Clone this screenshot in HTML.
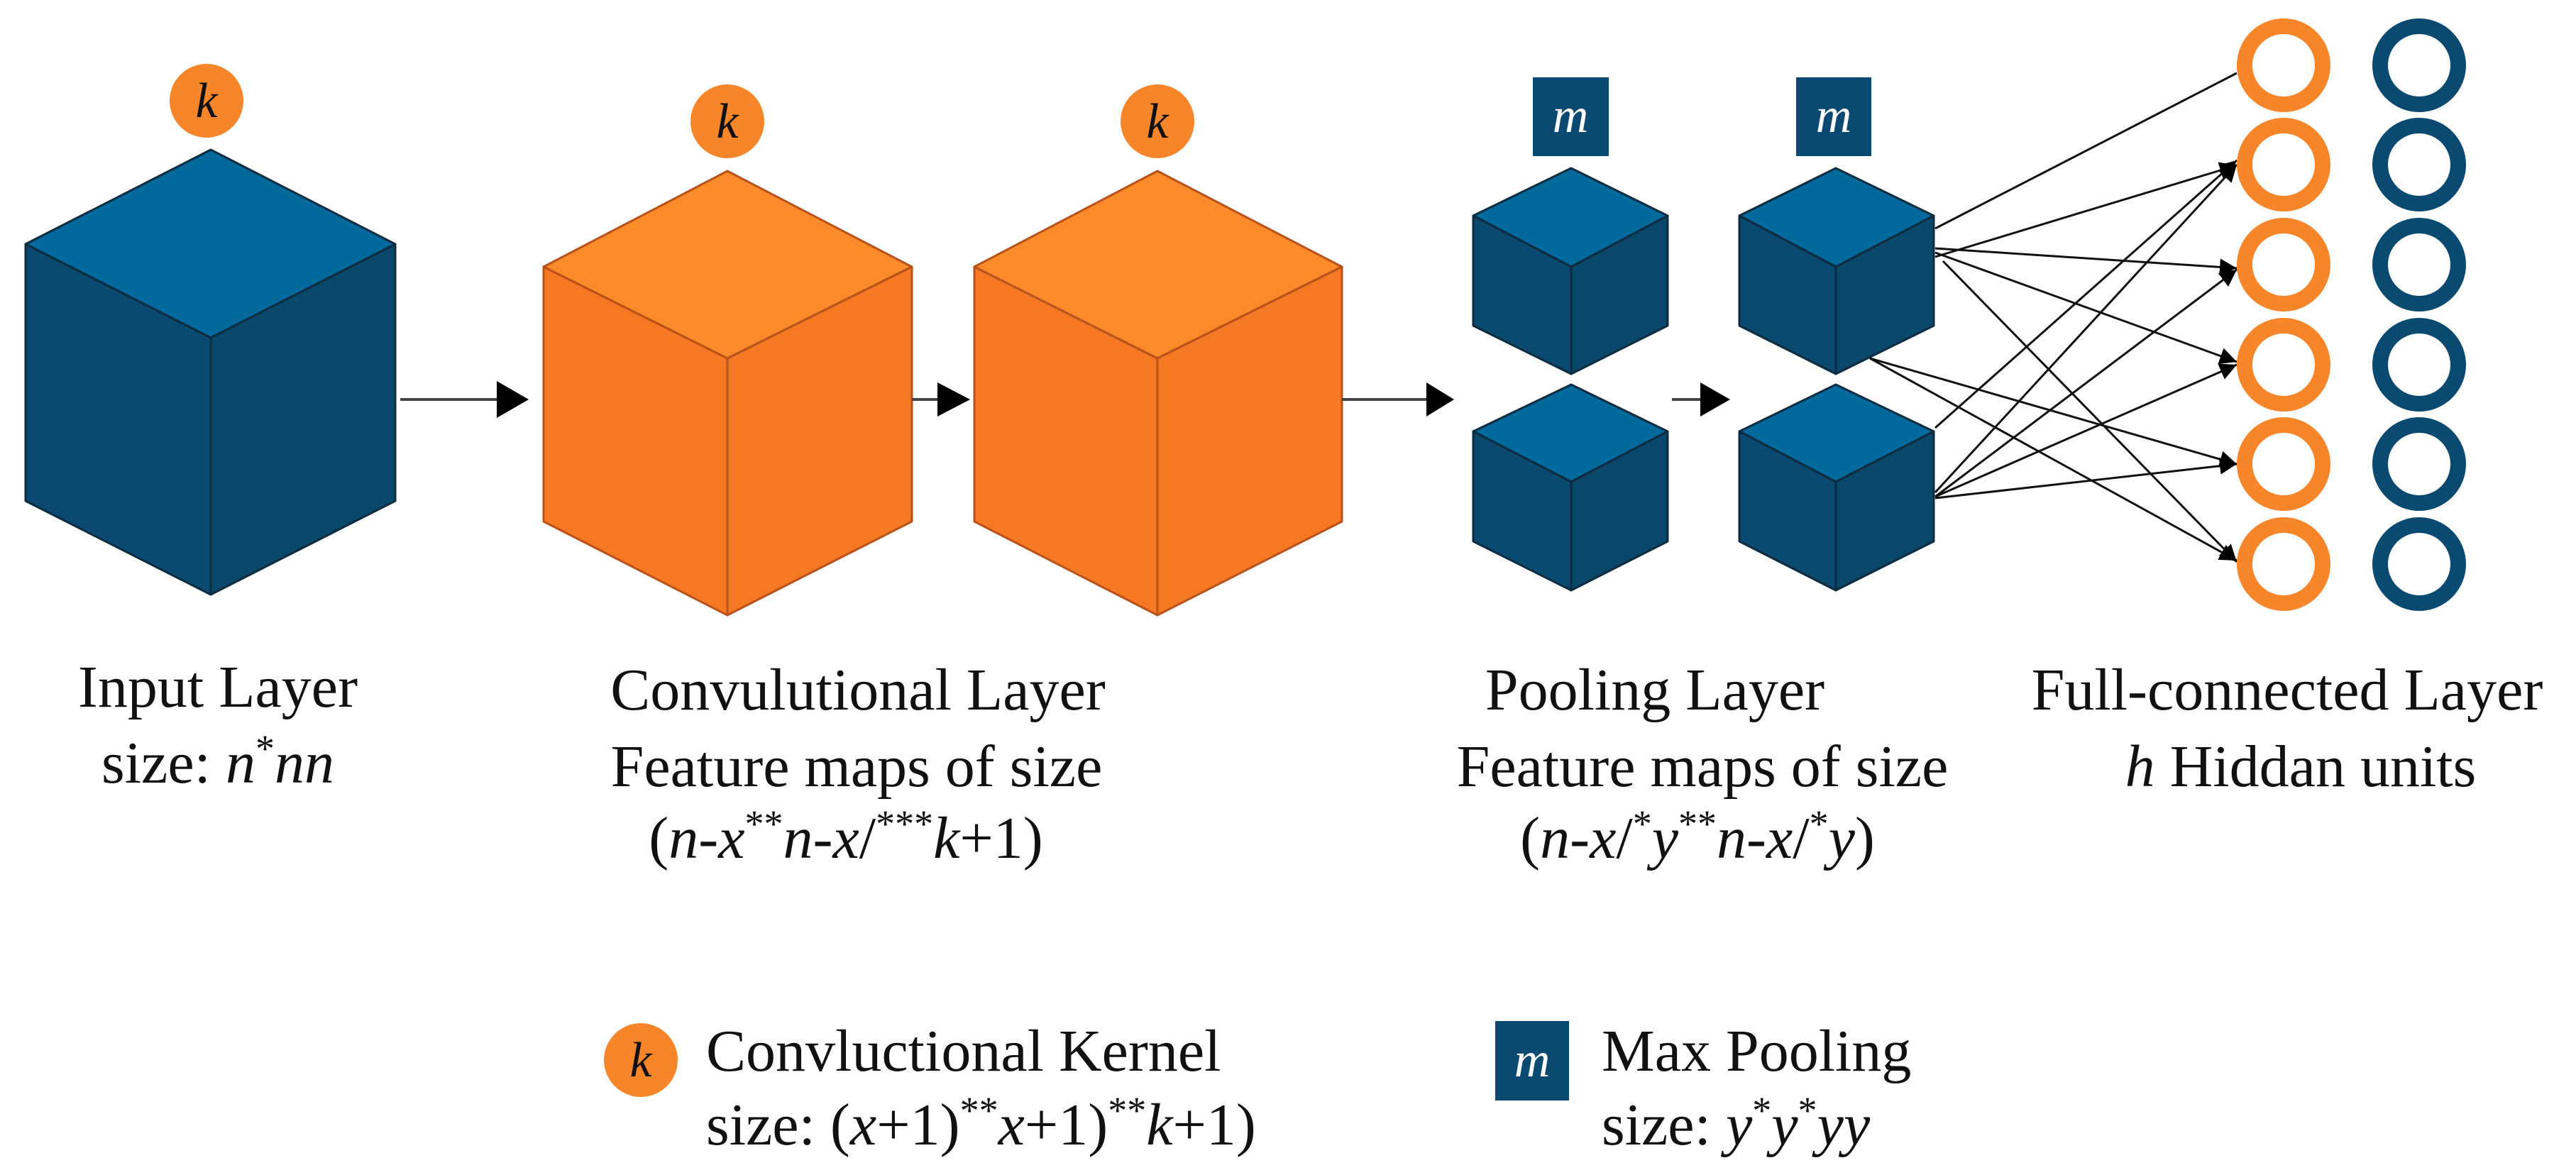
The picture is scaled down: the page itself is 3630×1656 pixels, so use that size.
<!DOCTYPE html>
<html><head><meta charset="utf-8"><style>
html,body{margin:0;padding:0;background:#fff}
svg{display:block}
text{font-family:"Liberation Serif",serif;fill:#111}
</style></head><body>
<svg width="3630" height="1656" viewBox="0 0 3630 1656" xmlns="http://www.w3.org/2000/svg">
<defs>
<marker id="ah" viewBox="0 0 10 10" refX="10" refY="5" markerWidth="10" markerHeight="10" markerUnits="userSpaceOnUse" orient="auto">
<path d="M0,0 L10,5 L0,10 z" fill="#000"/></marker>
<marker id="ah2" viewBox="0 0 10 10" refX="10" refY="5" markerWidth="24" markerHeight="24" markerUnits="userSpaceOnUse" orient="auto">
<path d="M0,0 L10,5 L0,10 z" fill="#000"/></marker>
</defs>
<rect width="3630" height="1656" fill="#fff"/>

<!-- cube helper drawn manually -->
<!-- Input cube -->
<g stroke="#0d2c40" stroke-width="3" stroke-linejoin="round">
<polygon points="297,211 557,344 297,476 36,344" fill="#02699c"/>
<polygon points="36,344 297,476 297,838 36,706" fill="#0a4a70"/>
<polygon points="297,476 557,344 557,706 297,838" fill="#09476b"/>
</g>
<!-- conv cube 1 -->
<g stroke="#b8521a" stroke-width="3" stroke-linejoin="round">
<polygon points="1025,241 1285,376 1025,505 766,376" fill="#fb8a2a"/>
<polygon points="766,376 1025,505 1025,867 766,735" fill="#f67822"/>
<polygon points="1025,505 1285,376 1285,735 1025,867" fill="#f57823"/>
</g>
<!-- conv cube 2 -->
<g stroke="#b8521a" stroke-width="3" stroke-linejoin="round">
<polygon points="1631,241 1891,376 1631,505 1373,376" fill="#fb8a2a"/>
<polygon points="1373,376 1631,505 1631,867 1373,735" fill="#f67822"/>
<polygon points="1631,505 1891,376 1891,735 1631,867" fill="#f57823"/>
</g>
<!-- pool cubes -->
<g stroke="#0d2c40" stroke-width="3" stroke-linejoin="round">
<polygon points="2214,237 2350,304 2214,376 2076,304" fill="#02699c"/>
<polygon points="2076,304 2214,376 2214,527 2076,459" fill="#0a4a70"/>
<polygon points="2214,376 2350,304 2350,459 2214,527" fill="#09476b"/>
<polygon points="2214,542 2350,608 2214,679 2076,608" fill="#02699c"/>
<polygon points="2076,608 2214,679 2214,832 2076,763" fill="#0a4a70"/>
<polygon points="2214,679 2350,608 2350,763 2214,832" fill="#09476b"/>
<polygon points="2587,237 2725,304 2587,376 2451,304" fill="#02699c"/>
<polygon points="2451,304 2587,376 2587,527 2451,459" fill="#0a4a70"/>
<polygon points="2587,376 2725,304 2725,459 2587,527" fill="#09476b"/>
<polygon points="2587,542 2725,608 2587,679 2451,608" fill="#02699c"/>
<polygon points="2451,608 2587,679 2587,832 2451,763" fill="#0a4a70"/>
<polygon points="2587,679 2725,608 2725,763 2587,832" fill="#09476b"/>
</g>

<!-- main arrows -->
<g stroke="#444" stroke-width="4">
<line x1="564" y1="563" x2="700" y2="563"/>
<line x1="1285" y1="563" x2="1321" y2="563"/>
<line x1="1891" y1="563" x2="2010" y2="563"/>
<line x1="2356" y1="563" x2="2396" y2="563"/>
</g>
<g fill="#000">
<polygon points="700,537 745,563 700,589"/>
<polygon points="1321,539 1367,563 1321,587"/>
<polygon points="2010,539 2049,563 2010,587"/>
<polygon points="2396,539 2438,563 2396,587"/>
</g>

<!-- k circles -->
<g fill="#f7862a">
<circle cx="291" cy="142" r="52"/>
<circle cx="1025" cy="171" r="52"/>
<circle cx="1631" cy="171" r="52"/>
<circle cx="903" cy="1494" r="52"/>
</g>
<g font-size="70" font-style="italic" text-anchor="middle">
<text x="291" y="165">k</text>
<text x="1025" y="194">k</text>
<text x="1631" y="194">k</text>
<text x="903" y="1517">k</text>
</g>
<!-- m boxes -->
<g fill="#0a4a70">
<rect x="2160" y="109" width="107" height="111"/>
<rect x="2531" y="109" width="106" height="111"/>
<rect x="2107" y="1439" width="104" height="112"/>
</g>
<g font-size="70" font-style="italic" text-anchor="middle" style="fill:#fff">
<text x="2213" y="186" style="fill:#fff">m</text>
<text x="2584" y="186" style="fill:#fff">m</text>
<text x="2159" y="1517" style="fill:#fff">m</text>
</g>

<!-- connections -->
<g stroke="#111" stroke-width="3" fill="none">
<line x1="2727" y1="322" x2="3152" y2="103"/>
<line x1="2727" y1="362" x2="3152" y2="233" marker-end="url(#ah2)"/>
<line x1="2727" y1="350" x2="3152" y2="378" marker-end="url(#ah2)"/>
<line x1="2727" y1="356" x2="3152" y2="510" marker-end="url(#ah2)"/>
<line x1="2738" y1="368" x2="3152" y2="792" marker-end="url(#ah2)"/>
<line x1="2635" y1="505" x2="3152" y2="654" marker-end="url(#ah2)"/>
<line x1="2635" y1="505" x2="3152" y2="790" marker-end="url(#ah2)"/>
<line x1="2727" y1="603" x2="3152" y2="226" marker-end="url(#ah2)"/>
<line x1="2727" y1="694" x2="3152" y2="232" marker-end="url(#ah2)"/>
<line x1="2727" y1="700" x2="3152" y2="380" marker-end="url(#ah2)"/>
<line x1="2727" y1="700" x2="3152" y2="514" marker-end="url(#ah2)"/>
<line x1="2727" y1="702" x2="3152" y2="654" marker-end="url(#ah2)"/>
</g>

<!-- rings -->
<g fill="none" stroke-width="22">
<g stroke="#f7862a">
<ellipse cx="3218" cy="92" rx="55" ry="55"/>
<ellipse cx="3218" cy="232" rx="55" ry="55"/>
<ellipse cx="3218" cy="373" rx="55" ry="55"/>
<ellipse cx="3218" cy="514" rx="55" ry="55"/>
<ellipse cx="3218" cy="654" rx="55" ry="55"/>
<ellipse cx="3218" cy="795" rx="55" ry="55"/>
</g>
<g stroke="#0a4a70">
<ellipse cx="3409" cy="92" rx="55" ry="55"/>
<ellipse cx="3409" cy="232" rx="55" ry="55"/>
<ellipse cx="3409" cy="373" rx="55" ry="55"/>
<ellipse cx="3409" cy="514" rx="55" ry="55"/>
<ellipse cx="3409" cy="654" rx="55" ry="55"/>
<ellipse cx="3409" cy="795" rx="55" ry="55"/>
</g>
</g>

<!-- labels -->
<g font-size="84" text-anchor="middle">
<text x="307" y="996">Input Layer</text>
<text x="307" y="1103">size: <tspan font-style="italic">n</tspan><tspan font-size="54" dy="-30">*</tspan><tspan dy="30" font-style="italic">nn</tspan></text>
<text x="1209" y="1000">Convulutional Layer</text>
<text x="1207" y="1108">Feature maps of size</text>
<text x="1192" y="1209">(<tspan font-style="italic">n</tspan>-<tspan font-style="italic">x</tspan><tspan font-size="54" dy="-30">**</tspan><tspan dy="30" font-style="italic">n</tspan>-<tspan font-style="italic">x</tspan>/<tspan font-size="54" dy="-30">***</tspan><tspan dy="30" font-style="italic">k</tspan>+1)</text>
<text x="2332" y="1000">Pooling Layer</text>
<text x="2399" y="1108">Feature maps of size</text>
<text x="2392" y="1209">(<tspan font-style="italic">n</tspan>-<tspan font-style="italic">x</tspan>/<tspan font-size="54" dy="-30">*</tspan><tspan dy="30" font-style="italic">y</tspan><tspan font-size="54" dy="-30">**</tspan><tspan dy="30" font-style="italic">n</tspan>-<tspan font-style="italic">x</tspan>/<tspan font-size="54" dy="-30">*</tspan><tspan dy="30" font-style="italic">y</tspan>)</text>
<text x="3223" y="1000">Full-connected Layer</text>
<text x="3242" y="1108"><tspan font-style="italic">h</tspan> Hiddan units</text>
</g>
<g font-size="84">
<text x="995" y="1509">Convluctional Kernel</text>
<text x="995" y="1613">size: (<tspan font-style="italic">x</tspan>+1)<tspan font-size="54" dy="-30">**</tspan><tspan dy="30" font-style="italic">x</tspan>+1)<tspan font-size="54" dy="-30">**</tspan><tspan dy="30" font-style="italic">k</tspan>+1)</text>
<text x="2257" y="1509">Max Pooling</text>
<text x="2257" y="1613">size: <tspan font-style="italic">y</tspan><tspan font-size="54" dy="-30">*</tspan><tspan dy="30" font-style="italic">y</tspan><tspan font-size="54" dy="-30">*</tspan><tspan dy="30" font-style="italic">yy</tspan></text>
</g>
</svg>
</body></html>
